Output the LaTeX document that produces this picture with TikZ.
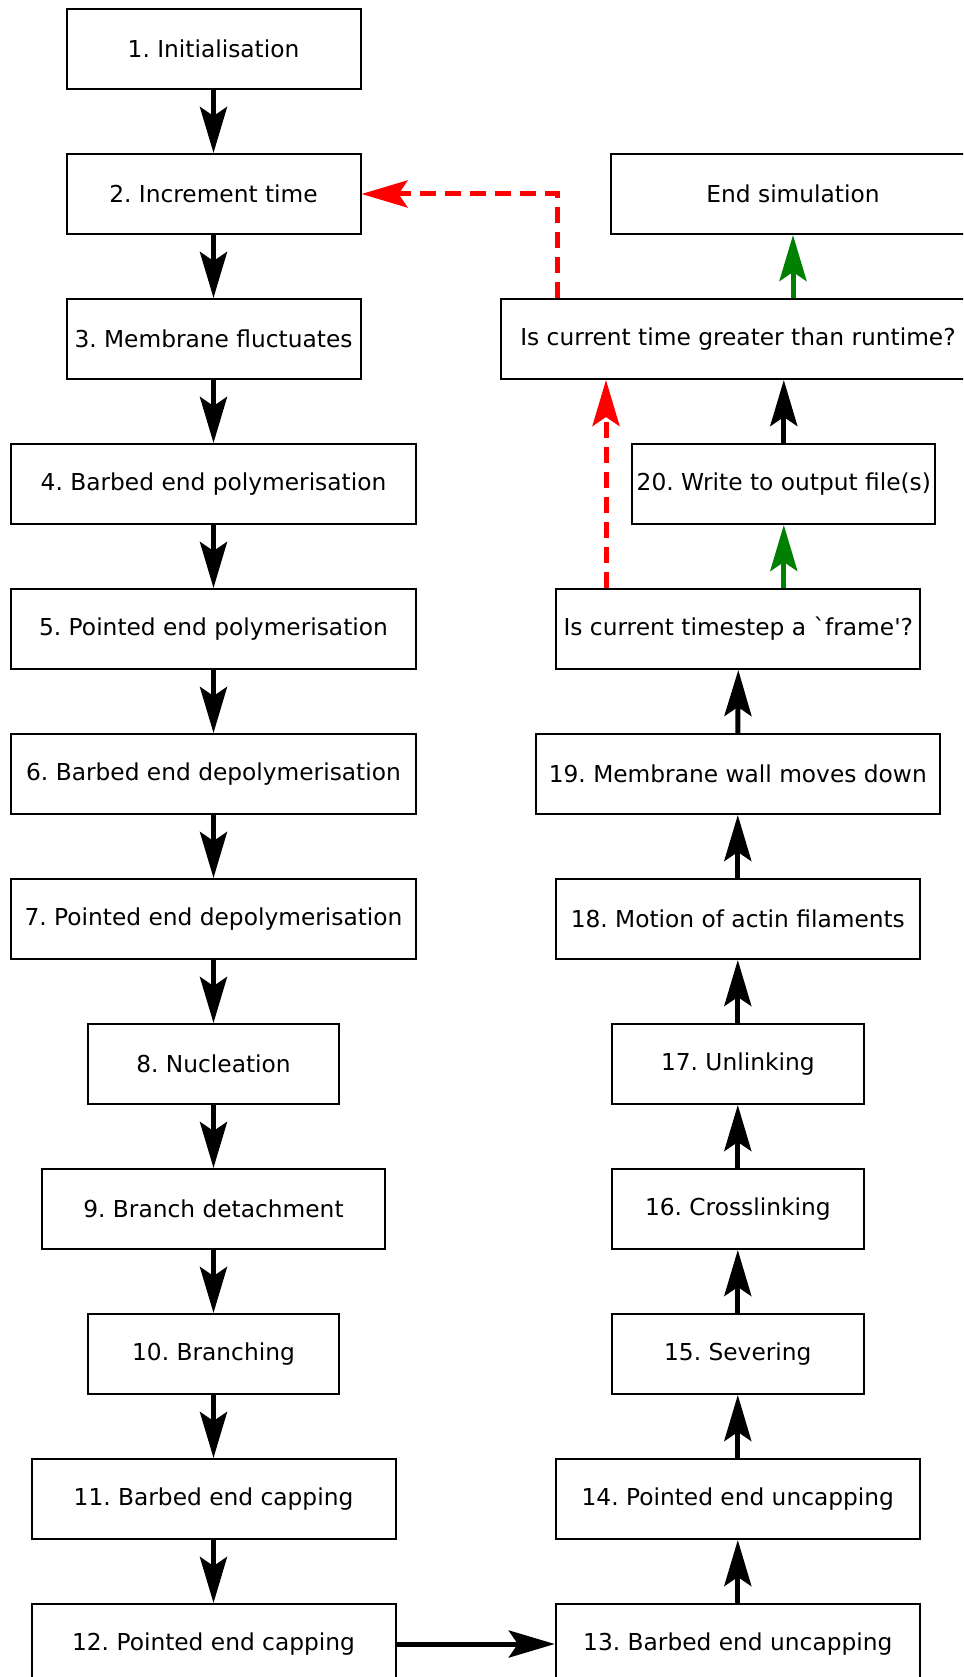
\documentclass[tikz,border=0pt]{standalone}
\usepackage{fontspec}
\newfontfamily\dv{DejaVu Sans}
\usetikzlibrary{arrows.meta}
\definecolor{okgreen}{RGB}{0,128,0}
\definecolor{nored}{RGB}{255,0,0}
\frenchspacing
\begin{document}
\begin{tikzpicture}[x=1pt,y=-1pt,
  box/.style={draw, line width=2pt, minimum height=80pt, inner sep=0pt,
    font=\dv\fontsize{23.3}{28}\selectfont},
  flow/.style={line width=5pt,
    -{Stealth[length=46pt,width=27pt,inset=9pt]}},
  yes/.style={flow, draw=okgreen, fill=okgreen},
  no/.style={flow, draw=nored, dash pattern=on 16pt off 9pt}]
\useasboundingbox (0,0) rectangle (963,1677);
\clip (0,0) rectangle (963,1677);

% left column
\node[box, minimum width=294pt]   (n1)  at (213.5,49)   {1. Initialisation};
\node[box, minimum width=294pt]   (n2)  at (213.5,194)  {2. Increment time};
\node[box, minimum width=294pt]   (n3)  at (213.5,339)  {3. Membrane fluctuates};
\node[box, minimum width=404.5pt] (n4)  at (213.5,484)  {4. Barbed end polymerisation};
\node[box, minimum width=404.5pt] (n5)  at (213.5,629)  {5. Pointed end polymerisation};
\node[box, minimum width=404.5pt] (n6)  at (213.5,774)  {6. Barbed end depolymerisation};
\node[box, minimum width=404.5pt] (n7)  at (213.5,919)  {7. Pointed end depolymerisation};
\node[box, minimum width=251.5pt] (n8)  at (213.5,1064) {8. Nucleation};
\node[box, minimum width=343.5pt] (n9)  at (213.5,1209) {9. Branch detachment};
\node[box, minimum width=251.5pt] (n10) at (213.5,1354) {10. Branching};
\node[box, minimum width=364pt]   (n11) at (213.5,1499) {11. Barbed end capping};
\node[box, minimum width=364pt]   (n12) at (213.5,1644) {12. Pointed end capping};

% right column
\node[box, minimum width=364pt]   (es)  at (793,194)    {End simulation};
\node[box, minimum width=474pt]   (q1)  at (738,339)    {Is current time greater than runtime?};
\node[box, minimum width=303pt]   (n20) at (783.8,484)  {20. Write to output file(s)};
\node[box, minimum width=364pt]   (fr)  at (738.3,629)  {Is current timestep a `frame'?};
\node[box, minimum width=403.5pt] (n19) at (737.8,774)  {19. Membrane wall moves down};
\node[box, minimum width=364pt]   (n18) at (737.8,919)  {18. Motion of actin filaments};
\node[box, minimum width=251.5pt] (n17) at (737.8,1064) {17. Unlinking};
\node[box, minimum width=251.5pt] (n16) at (737.8,1209) {16. Crosslinking};
\node[box, minimum width=251.5pt] (n15) at (737.8,1354) {15. Severing};
\node[box, minimum width=364pt]   (n14) at (737.8,1499) {14. Pointed end uncapping};
\node[box, minimum width=364pt]   (n13) at (737.8,1644) {13. Barbed end uncapping};

% main sequence
\foreach \a/\b in {n1/n2,n2/n3,n3/n4,n4/n5,n5/n6,n6/n7,n7/n8,n8/n9,n9/n10,n10/n11,n11/n12}
  \draw[flow] (\a.south) -- (\b.north);
\draw[flow] (n12.east) -- (n13.west);
\foreach \a/\b in {n13/n14,n14/n15,n15/n16,n16/n17,n17/n18,n18/n19,n19/fr}
  \draw[flow] (\a.north) -- (\b.south);

% decisions
\coordinate (loop) at (557,194);
\coordinate (skip) at (606,0);
\draw[yes] (n20.south |- fr.north) -- (n20.south);
\draw[flow] (n20.north) -- (n20.north |- q1.south);
\draw[no] (skip |- fr.north) -- (skip |- q1.south);
\draw[yes] (es.south |- q1.north) -- (es.south);
\draw[no] (loop |- q1.north) -- (loop) -- (n2.east);
\end{tikzpicture}
\end{document}
